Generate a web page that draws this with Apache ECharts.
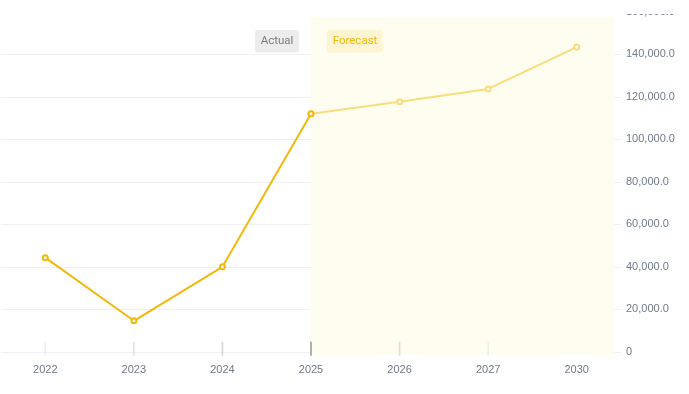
<!DOCTYPE html>
<html>
<head>
<meta charset="utf-8">
<script src="https://cdn.jsdelivr.net/npm/echarts@6/dist/echarts.min.js"></script>
<style>
html,body{margin:0;padding:0;background:#fff;}
#c{width:689px;height:394px;}
</style>
</head>
<body>
<div id="c"></div>
<script>
const years = ['2022','2023','2024','2025','2026','2027','2030'];
const actualValues = [44300, 14600, 40000, 112000, null, null, null];
const forecastValues = [null, null, null, 112000, 117700, 123700, 143400];
const yTicks = [0, 20000, 40000, 60000, 80000, 100000, 120000, 140000, 160000];
const forecastStart = '2025';
const forecastEnd = '2030';

// style-only: tick mark shade per category
const tickShades = ['#ebebeb', '#d9d9d9', '#cccccc', '#858585', '#d6d6d6', '#ebebeb', 'rgba(0,0,0,0)'];

const chart = echarts.init(document.getElementById('c'), null, {renderer: 'canvas'});

const fmt = v => v === 0 ? '0' : v.toLocaleString('en-US', {minimumFractionDigits: 1, maximumFractionDigits: 1});
const badgeFont = '11.5px Roboto, "Open Sans", sans-serif';

chart.setOption({
  animation: false,
  backgroundColor: '#ffffff',
  grid: {left: 1, right: 68, top: 11.8, bottom: 42.2, containLabel: false},
  xAxis: {
    type: 'category',
    data: years,
    boundaryGap: true,
    axisLine: {show: false},
    axisTick: {show: false},
    axisLabel: {color: '#707a8a', fontSize: 11, fontFamily: 'Liberation Sans, Arial, sans-serif', margin: 13},
    splitLine: {show: false}
  },
  yAxis: {
    type: 'value',
    position: 'right',
    min: yTicks[0],
    max: yTicks[yTicks.length - 1],
    interval: yTicks[1] - yTicks[0],
    axisLine: {show: false},
    axisTick: {show: false},
    axisLabel: {color: '#707a8a', fontSize: 11, fontFamily: 'Liberation Sans, Arial, sans-serif', margin: 5, formatter: fmt},
    splitLine: {lineStyle: {color: '#f0f0f0', width: 1}}
  },
  graphic: {
    z: 200,
    elements: [
      {type: 'rect', left: 0, top: 0, z: 200, shape: {width: 689, height: 14}, style: {fill: '#ffffff'}},
      {type: 'rect', left: 255, top: 30, z: 210, shape: {width: 44, height: 22.5, r: 3}, style: {fill: '#ececec'}},
      {type: 'text', x: 277, y: 41.5, z: 211, style: {text: 'Actual', fill: '#7c7c7c', font: badgeFont, textAlign: 'center', textVerticalAlign: 'middle'}},
      {type: 'rect', left: 327, top: 30, z: 210, shape: {width: 55.5, height: 22.5, r: 3}, style: {fill: '#fdf4d2'}},
      {type: 'text', x: 355, y: 41.5, z: 211, style: {text: 'Forecast', fill: '#f0b90b', font: badgeFont, textAlign: 'center', textVerticalAlign: 'middle'}}
    ]
  },
  series: [
    {
      type: 'custom',
      z: 0,
      silent: true,
      data: [[years.indexOf(forecastStart), yTicks[yTicks.length - 1], years.indexOf(forecastEnd), yTicks[0]]],
      renderItem: function (params, api) {
        const p1 = api.coord([api.value(0), api.value(1)]);
        const p2 = api.coord([api.value(2), api.value(3)]);
        const prev = api.coord([api.value(2) - 1, api.value(3)]);
        const bw = p2[0] - prev[0];
        const x2 = p2[0] + bw * 0.42;
        const top = p1[1] + 5;
        return {
          type: 'rect',
          shape: {x: p1[0], y: top, width: x2 - p1[0], height: p2[1] + 3 - top},
          style: {fill: '#fffdf0'}
        };
      }
    },
    {
      type: 'scatter',
      z: 1,
      silent: true,
      symbol: 'rect',
      symbolSize: [1.6, 14],
      symbolOffset: [0, -3],
      data: years.map((y, i) => ({value: [y, 0], itemStyle: {color: tickShades[i]}}))
    },
    {
      name: 'Forecast',
      type: 'line',
      z: 3,
      data: forecastValues,
      symbol: 'emptyCircle',
      symbolSize: 5,
      showAllSymbol: true,
      connectNulls: false,
      lineStyle: {color: '#f9dc7c', width: 2},
      itemStyle: {color: '#f9dc7c', borderWidth: 1.5}
    },
    {
      name: 'Actual',
      type: 'line',
      z: 4,
      data: actualValues,
      symbol: 'emptyCircle',
      symbolSize: 5,
      showAllSymbol: true,
      lineStyle: {color: '#f0b90b', width: 2},
      itemStyle: {color: '#f0b90b', borderWidth: 1.5}
    }
  ]
});
</script>
</body>
</html>
